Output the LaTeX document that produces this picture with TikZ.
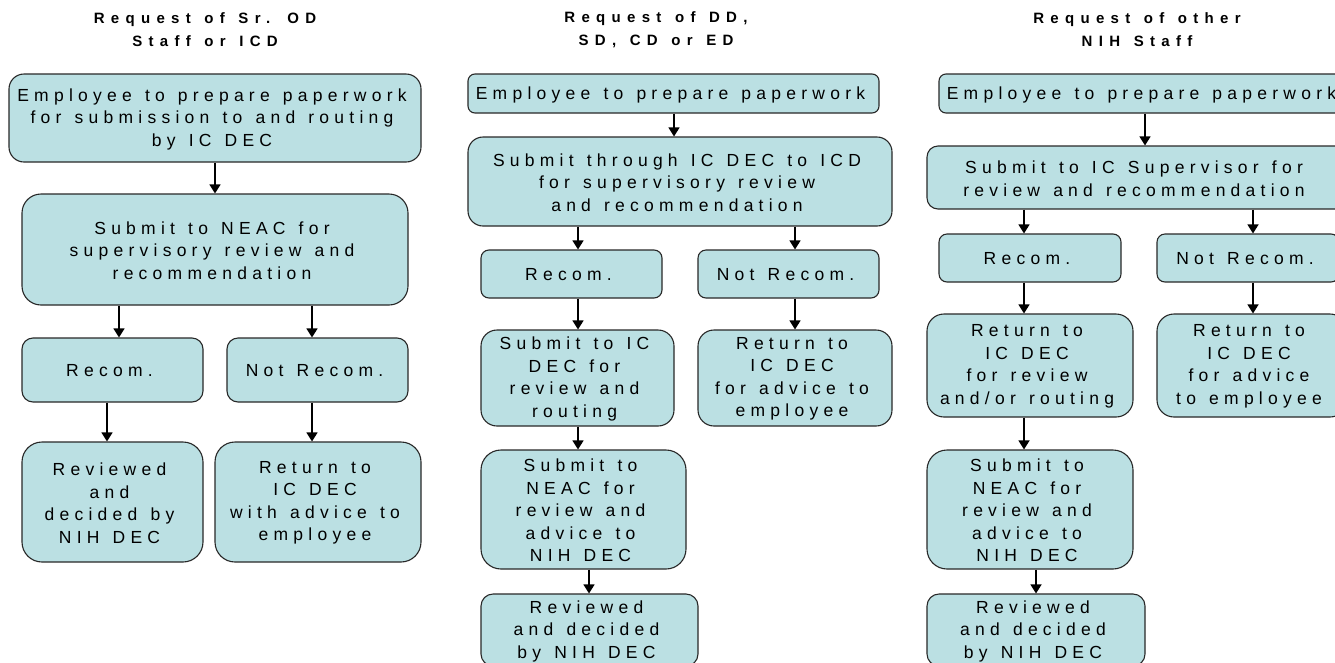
\documentclass[tikz,border=0pt]{standalone}
\usepackage{fontspec}
\setmainfont{Liberation Sans}
\newfontfamily\bodyfont[LetterSpace=30,WordSpace=1.3]{Liberation Sans}
\newfontfamily\titlefont[LetterSpace=42,WordSpace=1.3]{Liberation Sans Bold}
\usetikzlibrary{arrows.meta}
\definecolor{boxfill}{RGB}{187,224,227}
\definecolor{boxline}{RGB}{40,40,40}
\tikzset{
  flowbox/.style={draw=boxline, line width=1.1pt, fill=boxfill, inner sep=0pt},
  boxtext/.style={inner sep=0pt, align=center, font=\bodyfont\fontsize{17.5}{22.5}\selectfont},
  titletext/.style={inner sep=0pt, align=center, font=\titlefont\fontsize{15}{23}\selectfont},
  arr/.style={line width=1.3pt, -{Triangle[width=11pt,length=9pt]}},
}
% \fbx{name}{x1}{y1}{x2}{y2}{radius}{text}
\newcommand{\fbx}[7]{%
  \pgfmathsetmacro{\bw}{#4-#2}\pgfmathsetmacro{\bh}{#5-#3}%
  \node[flowbox, rounded corners=#6pt, minimum width=\bw pt, minimum height=\bh pt]
    (#1) at ({(#2+#4)/2},{(#3+#5)/2}) {};
  \node[boxtext] (#1-t) at ({(#2+#4)/2-3},{(#3+#5)/2+1}) {#7};}
\begin{document}
\begin{tikzpicture}[x=1pt,y=-1pt]
\useasboundingbox (0,0) rectangle (1335,662);
\clip (0,0) rectangle (1335,662);
% titles
\node[titletext] (t1) at (205,30) {Request of Sr. OD\\Staff or ICD};
\node[titletext] (t2) at (656,30) {Request of DD,\\SD, CD or ED};
\node[titletext] (t3) at (1137,30) {Request of other\\NIH Staff};
% column 1
\fbx{A1}{9}{74}{421}{162}{15}{Employee to prepare paperwork\\for submission to and routing\\by IC DEC}
\fbx{A2}{22}{194}{408}{305}{19}{Submit to NEAC for\\supervisory review and\\recommendation}
\fbx{R1}{22}{338}{203}{402}{11}{Recom.}
\fbx{N1}{227}{338}{408}{402}{11}{Not Recom.}
\fbx{V1}{22}{442}{203}{562}{20}{Reviewed\\and\\decided by\\NIH DEC}
\fbx{T1}{215}{442}{421}{562}{20}{Return to\\IC DEC\\with advice to\\employee}
% column 2
\fbx{B1}{468}{74}{879}{113}{7}{Employee to prepare paperwork}
\fbx{B2}{468}{137}{892}{226}{15}{Submit through IC DEC to ICD\\for supervisory review\\and recommendation}
\fbx{R2}{481}{250}{662}{298}{8}{Recom.}
\fbx{N2}{698}{250}{879}{298}{8}{Not Recom.}
\fbx{S2}{481}{330}{674}{426}{16}{Submit to IC\\DEC for\\review and\\routing}
\fbx{T2}{698}{330}{892}{426}{16}{Return to\\IC DEC\\for advice to\\employee}
\fbx{E2}{481}{450}{686}{569}{20}{Submit to\\NEAC for\\review and\\advice to\\NIH DEC}
\fbx{V2}{481}{594}{698}{666}{12}{Reviewed\\and decided\\by NIH DEC}
% column 3
\fbx{C1}{939}{74}{1350}{113}{7}{Employee to prepare paperwork}
\fbx{C2}{927}{146}{1347}{209}{11}{Submit to IC Supervisor for\\review and recommendation}
\fbx{R3}{939}{234}{1121}{282}{8}{Recom.}
\fbx{N3}{1157}{234}{1339}{282}{8}{Not Recom.}
\fbx{T3}{927}{314}{1133}{417}{17}{Return to\\IC DEC\\for review\\and/or routing}
\fbx{U3}{1157}{314}{1347}{417}{17}{Return to\\IC DEC\\for advice\\to employee}
\fbx{E3}{927}{450}{1133}{569}{20}{Submit to\\NEAC for\\review and\\advice to\\NIH DEC}
\fbx{V3}{927}{594}{1145}{666}{12}{Reviewed\\and decided\\by NIH DEC}
% arrow columns
\coordinate (xa) at (215,0);
\coordinate (xb) at (119,0);
\coordinate (xc) at (312,0);
\coordinate (xd) at (107,0);
\coordinate (xe) at (674,0);
\coordinate (xf) at (578,0);
\coordinate (xg) at (795,0);
\coordinate (xh) at (589,0);
\coordinate (xi) at (1145,0);
\coordinate (xj) at (1024,0);
\coordinate (xk) at (1253,0);
\coordinate (xl) at (1036,0);
% arrows column 1
\draw[arr] (A1.south -| xa) -- (A2.north -| xa);
\draw[arr] (A2.south -| xb) -- (R1.north -| xb);
\draw[arr] (A2.south -| xc) -- (N1.north -| xc);
\draw[arr] (R1.south -| xd) -- (V1.north -| xd);
\draw[arr] (N1.south -| xc) -- (T1.north -| xc);
% arrows column 2
\draw[arr] (B1.south -| xe) -- (B2.north -| xe);
\draw[arr] (B2.south -| xf) -- (R2.north -| xf);
\draw[arr] (B2.south -| xg) -- (N2.north -| xg);
\draw[arr] (R2.south -| xf) -- (S2.north -| xf);
\draw[arr] (N2.south -| xg) -- (T2.north -| xg);
\draw[arr] (S2.south -| xf) -- (E2.north -| xf);
\draw[arr] (E2.south -| xh) -- (V2.north -| xh);
% arrows column 3
\draw[arr] (C1.south -| xi) -- (C2.north -| xi);
\draw[arr] (C2.south -| xj) -- (R3.north -| xj);
\draw[arr] (C2.south -| xk) -- (N3.north -| xk);
\draw[arr] (R3.south -| xj) -- (T3.north -| xj);
\draw[arr] (N3.south -| xk) -- (U3.north -| xk);
\draw[arr] (T3.south -| xj) -- (E3.north -| xj);
\draw[arr] (E3.south -| xl) -- (V3.north -| xl);
\end{tikzpicture}
\end{document}
